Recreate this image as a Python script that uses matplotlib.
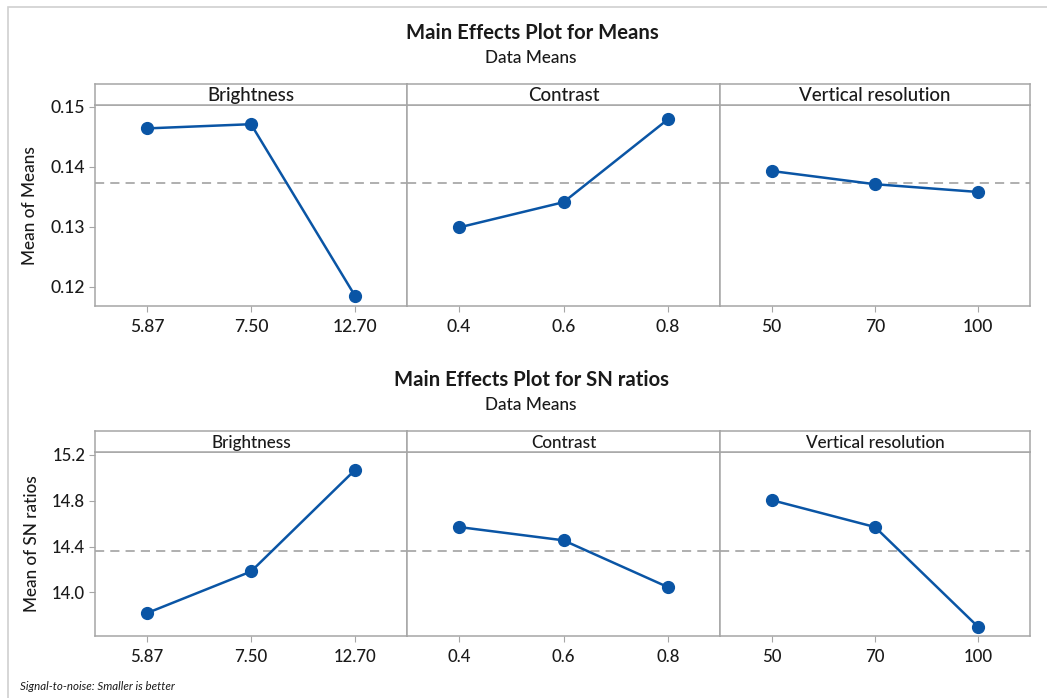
import numpy as np
import matplotlib.pyplot as plt
from matplotlib.patches import Rectangle

plt.rcParams['font.family'] = ['Lato', 'DejaVu Sans']

factors = ["Brightness", "Contrast", "Vertical resolution"]
levels = [["5.87", "7.50", "12.70"], ["0.4", "0.6", "0.8"], ["50", "70", "100"]]
means = [[0.1464, 0.1471, 0.1185],
         [0.1299, 0.1341, 0.1479],
         [0.1393, 0.1371, 0.1358]]
sn_ratios = [[13.82, 14.183, 15.069],
             [14.571, 14.455, 14.047],
             [14.806, 14.571, 13.698]]

W, H = 1047, 698
BLUE = "#0a55a5"
GRAY = "#a6a6a6"
TXT = "#1a1a1a"

fig = plt.figure(figsize=(W / 100, H / 100), dpi=100)


def fx(x):
    return x / W


def fy(y):
    return 1 - y / H


# light outer frame
fig.patches.append(Rectangle((fx(7.5), fy(760)), 1.2, fy(7) - fy(760),
                             transform=fig.transFigure, fill=False,
                             edgecolor="#d0d0d0", lw=1.2))


def draw_block(data, top, strip_bot, bottom, ylim, yticks, yfmt, ylabel, fs_tick, fs_strip, fs_lab):
    edges = [95, 407, 720, 1030]
    grand = np.mean(data)
    for i in range(3):
        x0, x1 = edges[i], edges[i + 1]
        ax = fig.add_axes([fx(x0), fy(bottom), fx(x1) - fx(x0), fy(strip_bot) - fy(bottom)])
        ax.plot(range(3), data[i], color=BLUE, lw=1.8, marker="o", ms=8.5, zorder=3)
        ax.axhline(grand, color="#9a9a9a", lw=1.1, ls=(0, (6, 4)), zorder=1)
        ax.set_xlim(-0.5, 2.5)
        ax.set_ylim(*ylim)
        ax.set_xticks(range(3))
        ax.set_xticklabels(levels[i], fontsize=fs_tick, color=TXT, fontweight="medium")
        for s in ax.spines.values():
            s.set_color(GRAY)
            s.set_linewidth(1.1)
        ax.tick_params(axis="x", length=4, color=GRAY, pad=5)
        if i == 0:
            ax.set_yticks(yticks)
            ax.set_yticklabels([yfmt.format(v) for v in yticks], fontsize=fs_tick,
                               color=TXT, fontweight="medium")
            ax.tick_params(axis="y", length=4, color=GRAY, pad=3)
            ax.set_ylabel(ylabel, fontsize=fs_lab, color=TXT, labelpad=9, fontweight="medium")
        else:
            ax.set_yticks([])
        # strip with factor name
        sax = fig.add_axes([fx(x0), fy(strip_bot), fx(x1) - fx(x0), fy(top) - fy(strip_bot)])
        sax.set_xticks([])
        sax.set_yticks([])
        for s in sax.spines.values():
            s.set_color(GRAY)
            s.set_linewidth(1.1)
        sax.text(0.5, 0.45, factors[i], ha="center", va="center", fontsize=fs_strip,
                 color=TXT, fontweight="medium", transform=sax.transAxes)


draw_block(means, 84, 105, 306, (0.1168, 0.1503), [0.12, 0.13, 0.14, 0.15],
           "{:.2f}", "Mean of Means", 12.6, 13.5, 12.4)
draw_block(sn_ratios, 431, 452, 636, (13.62, 15.226), [14.0, 14.4, 14.8, 15.2],
           "{:.1f}", "Mean of SN ratios", 12.1, 12.3, 12.3)

fig.text(fx(532), fy(33), "Main Effects Plot for Means", ha="center", va="center",
         fontsize=14.6, fontweight="bold", color=TXT)
fig.text(fx(531), fy(58), "Data Means", ha="center", va="center", fontsize=12.3,
         color=TXT, fontweight="medium")
fig.text(fx(532), fy(380), "Main Effects Plot for SN ratios", ha="center", va="center",
         fontsize=14.6, fontweight="bold", color=TXT)
fig.text(fx(531), fy(405), "Data Means", ha="center", va="center", fontsize=12.3,
         color=TXT, fontweight="medium")
fig.text(fx(20), fy(686), "Signal-to-noise: Smaller is better", ha="left", va="center",
         fontsize=8.3, style="italic", color=TXT)

fig.savefig("out.png", dpi=100)
